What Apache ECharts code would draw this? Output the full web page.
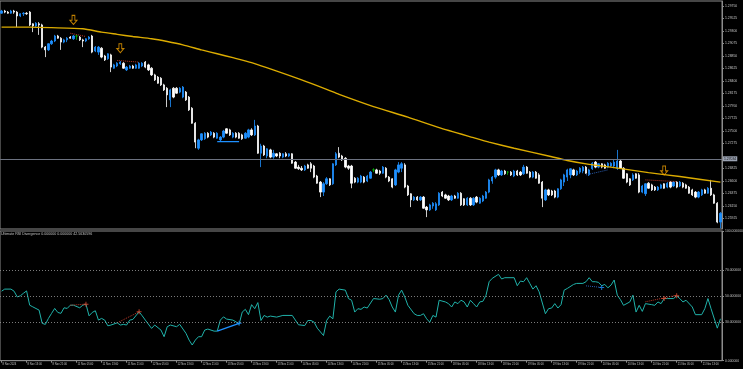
<!DOCTYPE html>
<html><head><meta charset="utf-8">
<script src="https://cdn.jsdelivr.net/npm/echarts@6/dist/echarts.min.js"></script>
<style>html,body{margin:0;padding:0;background:#000;}#c{width:743px;height:369px;}</style>
</head><body><div id="c"></div>
<script>
// ---------- DATA ----------
const timeLabels = ["8 Nov 2024","8 Nov 13:00","8 Nov 21:00","11 Nov 05:00","11 Nov 13:00","11 Nov 21:00","12 Nov 05:00","12 Nov 13:00","12 Nov 21:00","13 Nov 05:00","13 Nov 13:00","13 Nov 21:00","14 Nov 05:00","14 Nov 13:00","14 Nov 21:00","15 Nov 05:00","15 Nov 13:00","15 Nov 21:00","18 Nov 05:00","18 Nov 13:00","18 Nov 21:00","19 Nov 05:00","19 Nov 13:00","19 Nov 21:00","20 Nov 05:00","20 Nov 13:00","20 Nov 21:00","21 Nov 05:00","21 Nov 13:00"];
const priceTicks = [1.25925,1.26150,1.26375,1.26600,1.26825,1.27275,1.27500,1.27725,1.27950,1.28175,1.28400,1.28625,1.28850,1.29075,1.29300,1.29525,1.29750];
const rsiTicks = [0,30,50,70,100];
const rsiLevels = [30,50,70];
const priceLine = 1.27034;
const indicatorTitle = "Ultimate RSI Divergence 0.000000 0.000000 42.5630596";

const opens = [
1.2962,1.2966,1.2964,1.2962,1.2966,1.2964,1.2957,1.2961,1.2962,1.2964,
1.2943,1.2939,1.2943,1.2941,1.2901,1.2896,1.2907,1.2912,1.2921,1.2917,
1.2910,1.2914,1.2919,1.2916,1.2921,1.2919,1.2914,1.2912,1.2916,1.2921,
1.2894,1.2892,1.2899,1.2885,1.2880,1.2887,1.2863,1.2867,1.2871,1.2872,
1.2860,1.2863,1.2867,1.2863,1.2863,1.2867,1.2874,1.2869,1.2863,1.2851,
1.2847,1.2845,1.2833,1.2827,1.2806,1.2827,1.2827,1.2820,1.2811,1.2820,
1.2811,1.2791,1.2764,1.2719,1.2734,1.2736,1.2746,1.2743,1.2746,1.2737,
1.2734,1.2739,1.2754,1.2752,1.2739,1.2746,1.2746,1.2743,1.2737,1.2739,
1.2752,1.2743,1.2759,1.2710,1.2723,1.2705,1.2716,1.2703,1.2709,1.2710,
1.2703,1.2709,1.2705,1.2709,1.2694,1.2685,1.2683,1.2680,1.2689,1.2691,
1.2687,1.2669,1.2658,1.2640,1.2655,1.2664,1.2655,1.2689,1.2710,1.2705,
1.2701,1.2687,1.2687,1.2665,1.2658,1.2658,1.2667,1.2660,1.2665,1.2680,
1.2680,1.2678,1.2674,1.2683,1.2667,1.2664,1.2653,1.2676,1.2683,1.2689,
1.2651,1.2637,1.2626,1.2631,1.2626,1.2631,1.2613,1.2608,1.2615,1.2608,
1.2617,1.2640,1.2635,1.2633,1.2626,1.2633,1.2629,1.2638,1.2628,1.2617,
1.2629,1.2617,1.2631,1.2620,1.2624,1.2629,1.2640,1.2660,1.2667,1.2680,
1.2671,1.2678,1.2676,1.2676,1.2669,1.2678,1.2676,1.2673,1.2685,1.2676,
1.2667,1.2676,1.2671,1.2658,1.2626,1.2644,1.2642,1.2642,1.2631,1.2646,
1.2658,1.2667,1.2671,1.2680,1.2671,1.2676,1.2678,1.2685,1.2671,1.2682,
1.2694,1.2685,1.2691,1.2689,1.2685,1.2687,1.2687,1.2683,1.2696,1.2683,
1.2673,1.2664,1.2662,1.2673,1.2671,1.2640,1.2637,1.2656,1.2653,1.2649,
1.2644,1.2647,1.2655,1.2649,1.2658,1.2651,1.2658,1.2651,1.2656,1.2653,
1.2649,1.2644,1.2640,1.2631,1.2635,1.2644,1.2638,1.2647,1.2635,1.2620,
1.2586];
const closes = [
1.2966,1.2964,1.2962,1.2966,1.2964,1.2957,1.2961,1.2962,1.2961,1.2941,
1.2939,1.2944,1.2941,1.2901,1.2896,1.2907,1.2912,1.2921,1.2917,1.2910,
1.2914,1.2917,1.2917,1.2921,1.2921,1.2914,1.2912,1.2916,1.2919,1.2892,
1.2901,1.2901,1.2883,1.2878,1.2889,1.2865,1.2869,1.2872,1.2874,1.2863,
1.2865,1.2867,1.2863,1.2869,1.2872,1.2872,1.2865,1.2860,1.2851,1.2842,
1.2836,1.2833,1.2824,1.2815,1.2824,1.2811,1.2818,1.2827,1.2829,1.2806,
1.2788,1.2764,1.2730,1.2734,1.2745,1.2746,1.2739,1.2748,1.2739,1.2746,
1.2739,1.2750,1.2746,1.2743,1.2746,1.2739,1.2737,1.2736,1.2746,1.2752,
1.2743,1.2759,1.2710,1.2723,1.2707,1.2718,1.2703,1.2710,1.2705,1.2705,
1.2709,1.2705,1.2709,1.2692,1.2683,1.2682,1.2680,1.2687,1.2683,1.2683,
1.2667,1.2656,1.2640,1.2655,1.2664,1.2653,1.2691,1.2709,1.2703,1.2698,
1.2685,1.2683,1.2656,1.2658,1.2665,1.2669,1.2658,1.2669,1.2676,1.2680,
1.2674,1.2674,1.2685,1.2667,1.2660,1.2649,1.2680,1.2689,1.2691,1.2649,
1.2635,1.2626,1.2631,1.2626,1.2631,1.2611,1.2608,1.2617,1.2620,1.2619,
1.2638,1.2633,1.2629,1.2626,1.2633,1.2629,1.2638,1.2617,1.2617,1.2629,
1.2617,1.2629,1.2622,1.2629,1.2633,1.2640,1.2662,1.2667,1.2680,1.2671,
1.2678,1.2673,1.2676,1.2671,1.2678,1.2671,1.2671,1.2685,1.2674,1.2667,
1.2676,1.2665,1.2656,1.2629,1.2644,1.2635,1.2635,1.2631,1.2646,1.2662,
1.2671,1.2680,1.2682,1.2671,1.2678,1.2683,1.2685,1.2674,1.2680,1.2692,
1.2685,1.2691,1.2685,1.2683,1.2692,1.2692,1.2694,1.2696,1.2683,1.2665,
1.2658,1.2653,1.2671,1.2665,1.2640,1.2651,1.2655,1.2647,1.2644,1.2644,
1.2649,1.2653,1.2647,1.2656,1.2649,1.2658,1.2649,1.2658,1.2649,1.2647,
1.2638,1.2635,1.2631,1.2640,1.2644,1.2638,1.2647,1.2635,1.2620,1.2586,
1.2602];
const highs = [
1.2968,1.2968,1.2966,1.2968,1.2968,1.2966,1.2962,1.2964,1.2964,1.2966,
1.2944,1.2946,1.2946,1.2943,1.2903,1.2908,1.2914,1.2923,1.2923,1.2919,
1.2916,1.2919,1.2921,1.2923,1.2923,1.2921,1.2916,1.2917,1.2921,1.2923,
1.2903,1.2903,1.2901,1.2887,1.2890,1.2889,1.2871,1.2874,1.2876,1.2874,
1.2867,1.2869,1.2869,1.2871,1.2874,1.2874,1.2876,1.2871,1.2865,1.2853,
1.2849,1.2847,1.2835,1.2829,1.2826,1.2829,1.2829,1.2829,1.2831,1.2822,
1.2813,1.2793,1.2766,1.2736,1.2746,1.2748,1.2748,1.2750,1.2748,1.2748,
1.2741,1.2752,1.2755,1.2754,1.2748,1.2748,1.2748,1.2745,1.2748,1.2754,
1.2755,1.2770,1.2761,1.2727,1.2725,1.2719,1.2718,1.2716,1.2710,1.2712,
1.2710,1.2712,1.2710,1.2710,1.2696,1.2689,1.2687,1.2689,1.2691,1.2694,
1.2689,1.2671,1.2660,1.2658,1.2667,1.2665,1.2692,1.2712,1.2721,1.2707,
1.2703,1.2689,1.2689,1.2667,1.2667,1.2671,1.2669,1.2671,1.2678,1.2683,
1.2682,1.2680,1.2687,1.2685,1.2669,1.2665,1.2682,1.2694,1.2694,1.2692,
1.2653,1.2638,1.2633,1.2633,1.2633,1.2633,1.2615,1.2619,1.2622,1.2622,
1.2640,1.2642,1.2637,1.2635,1.2635,1.2635,1.2640,1.2640,1.2629,1.2631,
1.2631,1.2631,1.2633,1.2631,1.2635,1.2642,1.2664,1.2669,1.2682,1.2682,
1.2680,1.2680,1.2678,1.2678,1.2680,1.2680,1.2678,1.2689,1.2687,1.2678,
1.2678,1.2678,1.2674,1.2660,1.2646,1.2646,1.2644,1.2644,1.2647,1.2664,
1.2673,1.2682,1.2683,1.2682,1.2680,1.2685,1.2687,1.2687,1.2682,1.2694,
1.2696,1.2692,1.2692,1.2691,1.2694,1.2694,1.2698,1.2716,1.2698,1.2685,
1.2674,1.2665,1.2674,1.2674,1.2674,1.2653,1.2656,1.2658,1.2655,1.2651,
1.2651,1.2655,1.2656,1.2658,1.2660,1.2660,1.2660,1.2660,1.2658,1.2655,
1.2651,1.2646,1.2642,1.2642,1.2646,1.2646,1.2649,1.2662,1.2637,1.2622,
1.2604];
const lows = [
1.2961,1.2962,1.2961,1.2961,1.2961,1.2937,1.2955,1.2957,1.2959,1.2939,
1.2928,1.2937,1.2923,1.2899,1.2883,1.2894,1.2905,1.2910,1.2916,1.2896,
1.2908,1.2910,1.2916,1.2914,1.2914,1.2912,1.2901,1.2910,1.2914,1.2890,
1.2892,1.2887,1.2881,1.2876,1.2878,1.2856,1.2862,1.2865,1.2869,1.2862,
1.2858,1.2862,1.2862,1.2862,1.2862,1.2865,1.2863,1.2858,1.2849,1.2840,
1.2835,1.2831,1.2822,1.2793,1.2793,1.2809,1.2817,1.2818,1.2809,1.2804,
1.2786,1.2763,1.2719,1.2716,1.2732,1.2734,1.2737,1.2741,1.2737,1.2736,
1.2732,1.2737,1.2745,1.2741,1.2737,1.2737,1.2736,1.2734,1.2736,1.2737,
1.2741,1.2741,1.2709,1.2685,1.2705,1.2701,1.2701,1.2700,1.2703,1.2701,
1.2701,1.2703,1.2703,1.2691,1.2682,1.2680,1.2678,1.2678,1.2682,1.2676,
1.2665,1.2655,1.2631,1.2633,1.2653,1.2651,1.2653,1.2687,1.2701,1.2696,
1.2683,1.2680,1.2647,1.2656,1.2656,1.2656,1.2656,1.2658,1.2664,1.2676,
1.2673,1.2671,1.2673,1.2665,1.2658,1.2647,1.2651,1.2674,1.2676,1.2647,
1.2633,1.2613,1.2624,1.2624,1.2624,1.2610,1.2595,1.2606,1.2610,1.2606,
1.2615,1.2631,1.2628,1.2624,1.2624,1.2628,1.2628,1.2615,1.2615,1.2615,
1.2615,1.2615,1.2620,1.2619,1.2622,1.2628,1.2638,1.2655,1.2664,1.2669,
1.2669,1.2671,1.2671,1.2669,1.2667,1.2669,1.2669,1.2671,1.2673,1.2665,
1.2665,1.2664,1.2655,1.2613,1.2624,1.2633,1.2633,1.2629,1.2629,1.2644,
1.2651,1.2660,1.2665,1.2669,1.2669,1.2673,1.2674,1.2673,1.2669,1.2680,
1.2683,1.2683,1.2683,1.2682,1.2683,1.2685,1.2683,1.2680,1.2682,1.2664,
1.2656,1.2651,1.2660,1.2664,1.2638,1.2638,1.2633,1.2646,1.2642,1.2642,
1.2642,1.2646,1.2646,1.2647,1.2647,1.2649,1.2647,1.2649,1.2647,1.2646,
1.2637,1.2633,1.2629,1.2629,1.2633,1.2637,1.2637,1.2633,1.2619,1.2584,
1.2575];

// moving average, read at bar index
const maLine = [[0,1.2937],[9,1.2937],[16,1.2936],[26,1.2934],[32,1.2928],[37,1.2924],[42,1.2920],[48,1.2916],[53,1.2911],[58,1.2905],[64,1.2896],[69,1.2889],[74,1.2882],[80,1.2873],[96,1.2842],[104,1.2825],[108,1.2816],[119,1.2794],[130,1.2775],[140,1.2756],[151,1.2738],[156,1.2730],[164,1.2719],[175,1.2705],[181,1.2697],[188,1.2690],[196,1.2684],[207,1.2675],[217,1.2668],[230,1.2658]];

// RSI values, read at bar index
const rsiLine = [[0,53.6],[1,55.2],[3,55.2],[4,53.6],[5,49.2],[6,50],[7,52],[8,53.8],[9,42.8],[10,41.5],[12,39],[13,28.8],[14,28],[15,32.6],[16,36.5],[17,40.3],[18,37.2],[19,36.5],[20,40.8],[21,40.3],[22,42.8],[23,42.8],[25,40.8],[26,42.8],[27,43.6],[28,34.6],[29,37.2],[30,38.5],[31,31.3],[32,32.6],[33,31.3],[34,26.9],[35,27.5],[37,29.2],[38,27.5],[39,28],[40,27.5],[41,31.3],[42,31.8],[44,37.7],[45,34.6],[46,31.3],[48,24.9],[49,27.5],[51,23.6],[52,18.5],[53,26.2],[54,27.5],[56,26.2],[57,28],[59,21.1],[60,15.9],[61,12.1],[62,15.9],[63,18.5],[64,18.5],[65,23.6],[66,24.4],[68,22.8],[69,22.8],[70,31.3],[71,33.8],[72,32.1],[74,31.3],[75,30],[76,28],[77,37.5],[78,39.6],[79,35.5],[80,43.2],[81,40.1],[82,44.8],[83,31],[84,34.9],[85,33.6],[86,34.4],[88,33.6],[90,34.9],[93,34.9],[95,27.7],[97,27.1],[98,31],[99,31],[100,29.7],[101,25.1],[103,19.4],[104,31],[105,34.4],[106,32.3],[107,53.1],[108,55.2],[110,54.4],[111,47.9],[112,46.6],[113,37.5],[114,40.1],[115,39.6],[116,41.4],[117,40.6],[119,47.9],[121,47.4],[122,47.9],[123,50.5],[124,47.1],[125,41.4],[126,37.5],[127,50.5],[128,54.4],[129,49.2],[130,42.7],[132,36.2],[133,34.9],[134,34.9],[135,36.2],[136,32.3],[137,29.7],[138,34.9],[139,33.6],[140,46.6],[142,45.3],[143,44],[144,41.4],[145,45.3],[146,44],[147,46.6],[148,45.3],[149,41.4],[150,46.6],[151,44],[152,41.4],[153,45.3],[154,45.8],[155,50.5],[156,60.9],[157,63.5],[159,66.6],[160,63],[161,64],[164,64],[165,57.8],[166,61.4],[167,60.9],[168,64],[169,59.6],[170,55.2],[171,57.8],[172,53.1],[174,36.2],[175,40.1],[176,40.6],[177,44],[178,40.6],[179,43.2],[180,54.4],[181,55.7],[183,58.8],[184,59.6],[186,59.6],[187,60.9],[188,64],[189,60.9],[190,60.9],[191,60.4],[192,57.8],[193,58.8],[194,56.2],[195,58.3],[196,62.2],[197,50.5],[198,47.1],[199,42.7],[201,45.3],[202,50.5],[203,37.5],[204,42.7],[205,38],[206,44],[208,43.2],[209,42.7],[210,45.3],[211,44],[212,47.9],[213,47.9],[215,47.9],[216,50],[217,47.9],[218,45.3],[219,46.6],[221,41.4],[222,35.5],[224,35.5],[225,40.1],[226,47.9],[227,40.1],[229,25.1],[230,32.3]];

// signal arrows on price
const arrows = [[23,1.2950],[38,1.2899],[212,1.2679]];
// divergence segments on price
const priceDivRed = [[[22,1.2926],[27,1.2920]],[[37,1.2877],[44,1.2874]],[[206,1.2662],[216,1.2659]]];
const priceDivBlue = [[69,1.2731],[76,1.2731]];
const priceDivBlueDot = [[187,1.2671],[194,1.2680]];
// divergence segments on RSI
const rsiDivRed = [[[22,42.8],[27,43.6]],[[37,29.2],[44,37.7]],[[206,45.4],[216,50.5]]];
const rsiDivBlue = [[69,22.8],[76,28.8]];
const rsiDivBlueDot = [[187,57.7],[192,56.5]];
const rsiCrossRed = [[27,43.6],[44,37.7],[212,48],[216,50]];
const rsiCrossBlue = [[76,28.8],[192,56.5]];

// ---------- CHART ----------
const cats = opens.map((_, i) => String(i));
const candles = opens.map((o, i) => [o, closes[i], lows[i], highs[i]]);
const AX = '#8c8c8c', TXT = '#c4c4c4', FONT = 'Liberation Sans';
const everyEight = (i) => i % 8 === 0;
const ARROW = 'path://M3,0 L7,0 L7,6 L10,6 L5,11 L0,6 L3,6 Z';
const PLUS = 'path://M4,0 L6,0 L6,4 L10,4 L10,6 L6,6 L6,10 L4,10 L4,6 L0,6 L0,4 L4,4 Z';

function seg(data, color, type, axis, width) {
  return { type: 'line', xAxisIndex: axis, yAxisIndex: axis, data: data, showSymbol: false,
    silent: true, lineStyle: { color: color, type: type, width: width || 1 }, z: 4 };
}

const series = [
  { type: 'candlestick', xAxisIndex: 0, yAxisIndex: 0, data: candles, barWidth: 1.8,
    itemStyle: { color: '#1e90ff', color0: '#ffffff', borderColor: '#1e90ff', borderColor0: '#ffffff',
      borderColorDoji: '#00b400', borderWidth: 0.8 },
    markLine: { silent: true, symbol: 'none', animation: false,
      lineStyle: { color: '#6c7280', width: 1, type: 'solid' },
      label: { show: true, position: 'end', distance: 1, formatter: priceLine.toFixed(5),
        backgroundColor: '#9aa2b2', color: '#101010', fontSize: 3.4, fontFamily: FONT, padding: [1, 1] },
      data: [{ yAxis: priceLine }] } },
  { type: 'line', xAxisIndex: 0, yAxisIndex: 0, data: maLine, showSymbol: false, smooth: 0.2,
    lineStyle: { color: '#dcac00', width: 1.4 }, z: 3, silent: true },
  { type: 'scatter', xAxisIndex: 0, yAxisIndex: 0, data: arrows, symbol: ARROW, symbolSize: [7, 9],
    itemStyle: { color: 'rgba(0,0,0,0)', borderColor: '#f0a000', borderWidth: 1 }, z: 6, silent: true },
  { type: 'line', xAxisIndex: 1, yAxisIndex: 1, data: rsiLine, showSymbol: false,
    lineStyle: { color: '#20b2aa', width: 1 }, z: 3, silent: true,
    markLine: { silent: true, symbol: 'none', animation: false, label: { show: false },
      lineStyle: { color: '#9a9a9a', type: [1, 2], width: 0.8 },
      data: rsiLevels.map(v => ({ yAxis: v })) } },
  seg(priceDivBlue, '#1e90ff', 'solid', 0, 1.3),
  seg(priceDivBlueDot, '#2a5db0', 'dotted', 0),
  seg(rsiDivBlue, '#1e90ff', 'solid', 1, 1.3),
  seg(rsiDivBlueDot, '#2a5db0', 'dotted', 1),
  { type: 'scatter', xAxisIndex: 1, yAxisIndex: 1, data: rsiCrossRed, symbol: PLUS, symbolSize: 5,
    itemStyle: { color: '#e04a30' }, z: 6, silent: true },
  { type: 'scatter', xAxisIndex: 1, yAxisIndex: 1, data: rsiCrossBlue, symbol: PLUS, symbolSize: 5,
    itemStyle: { color: '#1e90ff' }, z: 6, silent: true }
];
priceDivRed.forEach(d => series.push(seg(d, '#b83a2a', 'dotted', 0)));
rsiDivRed.forEach(d => series.push(seg(d, '#b83a2a', 'dotted', 1)));

const chart = echarts.init(document.getElementById('c'), null, { renderer: 'canvas' });
chart.setOption({
  animation: false,
  backgroundColor: '#000000',
  title: { text: indicatorTitle, left: 1, top: 232, padding: 0,
    textStyle: { color: TXT, fontSize: 3.6, fontWeight: 'normal', fontFamily: FONT } },
  grid: [
    { left: 0, right: 21, top: 1, height: 228, show: true, borderColor: AX, borderWidth: 1, outerBoundsMode: 'none' },
    { left: 0, right: 21, top: 231, height: 129.7, show: true, borderColor: AX, borderWidth: 1, outerBoundsMode: 'none' }
  ],
  xAxis: [
    { type: 'category', gridIndex: 0, data: cats, boundaryGap: true,
      axisLine: { show: false }, axisTick: { show: false }, axisLabel: { show: false }, splitLine: { show: false } },
    { type: 'category', gridIndex: 1, data: cats, boundaryGap: true,
      axisLine: { show: true, lineStyle: { color: AX } },
      axisTick: { show: true, interval: everyEight, alignWithLabel: true, length: 2, lineStyle: { color: AX } },
      axisLabel: { interval: everyEight, align: 'left', margin: 2, padding: [0, 0, 0, 1],
        color: TXT, fontSize: 2.7, fontFamily: FONT,
        formatter: (v, i) => timeLabels[Math.round(i / 8)] || '' },
      splitLine: { show: false } }
  ],
  yAxis: [
    { type: 'value', gridIndex: 0, position: 'right', min: 1.25736, max: 1.29840, scale: true,
      splitLine: { show: false },
      axisLine: { show: true, lineStyle: { color: AX } },
      axisTick: { show: true, length: 2, customValues: priceTicks, lineStyle: { color: AX } },
      axisLabel: { customValues: priceTicks, formatter: v => v.toFixed(5), color: TXT,
        fontSize: 3.4, fontFamily: FONT, margin: 3 } },
    { type: 'value', gridIndex: 1, position: 'right', min: 0, max: 100,
      splitLine: { show: false },
      axisLine: { show: true, lineStyle: { color: AX } },
      axisTick: { show: true, length: 2, customValues: rsiTicks, lineStyle: { color: AX } },
      axisLabel: { customValues: rsiTicks, formatter: v => v.toFixed(6), color: TXT,
        fontSize: 3.4, fontFamily: FONT, margin: 3 } }
  ],
  series: series
});
</script>
</body></html>
